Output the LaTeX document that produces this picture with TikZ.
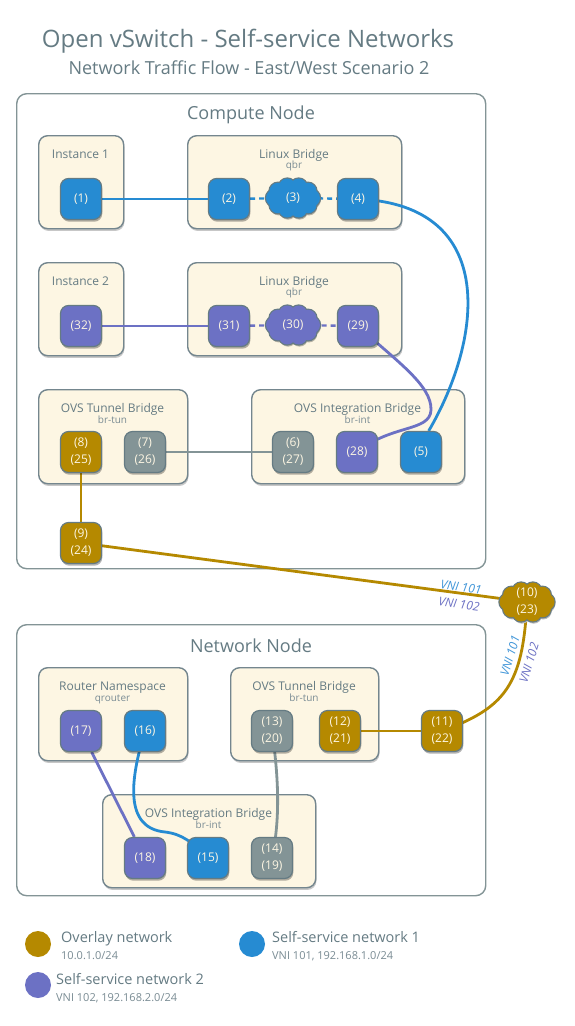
\documentclass[tikz,border=0pt]{standalone}
\usepackage{fontspec}
\setmainfont{Open Sans}
\usetikzlibrary{shadows}
\pgfdeclarelayer{bg}
\pgfdeclarelayer{lines}
\pgfsetlayers{bg,lines,main}
\definecolor{cgold}{HTML}{B58900}
\definecolor{cblue}{HTML}{268BD2}
\definecolor{cviolet}{HTML}{6C71C4}
\definecolor{cgray}{HTML}{839496}
\definecolor{cbox}{HTML}{FDF6E3}
\definecolor{cborder}{HTML}{74868E}
\definecolor{ctext}{HTML}{657B83}
\definecolor{csub}{HTML}{7A8C94}
\definecolor{cvblue}{HTML}{3F95D8}
\colorlet{cshadowbox}{cbox!72!black}
\colorlet{cshadoww}{white!72!black}
\tikzset{
  outerbox/.style={draw=cgray, line width=1.4pt, rounded corners=10pt, anchor=north west, inner sep=0pt},
  ibox/.style={draw=cborder, fill=cbox, line width=1.4pt, rounded corners=9pt, anchor=north west, inner sep=0pt,
    drop shadow={shadow xshift=0.8pt, shadow yshift=-2.2pt, opacity=0.22, fill=black}},
  port/.style={draw=ctext, line width=1.2pt, rounded corners=8pt, minimum width=41pt, minimum height=41pt,
    inner sep=0pt, text=cbox, align=center, font=\fontsize{12}{17}\selectfont,
    drop shadow={shadow xshift=0.8pt, shadow yshift=-2.2pt, opacity=0.3, fill=black}},
  cloudlabel/.style={inner sep=0pt, text=cbox, align=center, font=\fontsize{12}{17}\selectfont},
  boxtitle/.style={anchor=base, text=ctext, font=\fontsize{12}{14}\selectfont},
  boxsub/.style={anchor=base, text=csub, font=\fontsize{10}{12}\selectfont},
  nodetitle/.style={anchor=base, text=ctext, font=\fontsize{18}{21}\selectfont},
  link/.style={line width=2.8pt},
  dashlink/.style={line width=2.4pt, dash pattern=on 5pt off 4pt},
  vni/.style={font=\fontsize{12}{14}\selectfont\itshape, inner sep=0pt},
  legdot/.style={circle, minimum size=26pt, inner sep=0pt},
  legmain/.style={anchor=base west, text=ctext, font=\fontsize{14.5}{17}\selectfont, inner sep=0pt},
  legsub/.style={anchor=base west, text=csub, font=\fontsize{11}{13}\selectfont, inner sep=0pt},
}
% cloud: #1 x, #2 y, #3 fill, #4 shadow colour, #5 half width of puff ring, #6 half height of puff ring
\newcommand\cloudblob[6]{%
  \foreach \k in {0,36,...,324}{\fill[#4] ({#1+0.8+#5*cos(\k)},{#2+2.2+#6*sin(\k)}) circle[radius=8.5pt];}
  \fill[#4] (#1+0.8,#2+2.2) ellipse[x radius=#5pt, y radius=13pt];
  \foreach \k in {0,36,...,324}{\draw[ctext, line width=2.4pt] ({#1+#5*cos(\k)},{#2+#6*sin(\k)}) circle[radius=8.5pt];}
  \foreach \k in {0,36,...,324}{\fill[#3] ({#1+#5*cos(\k)},{#2+#6*sin(\k)}) circle[radius=8.5pt];}
  \fill[#3] (#1,#2) ellipse[x radius=#5pt, y radius=13pt];
}
\begin{document}
\begin{tikzpicture}[x=1pt,y=-1pt]
\useasboundingbox (0,0) rectangle (574,1026);

% titles
\node[anchor=base, text=ctext, font=\fontsize{24}{28}\selectfont] (title) at (248,47) {Open vSwitch - Self-service Networks};
\node[anchor=base, text=ctext, font=\fontsize{18}{21}\selectfont] (subtitle) at (249,74) {Network Traffic Flow - East/West Scenario 2};

\begin{pgfonlayer}{bg}
\fill[white] (0,0) rectangle (574,1026);
% compute node
\node[outerbox, minimum width=469pt, minimum height=475pt] (compute) at (16,93) {};
\node[ibox, minimum width=85pt, minimum height=93pt] (inst1) at (38,135) {};
\node[ibox, minimum width=214pt, minimum height=93pt] (lb1) at (187,135) {};
\node[ibox, minimum width=85pt, minimum height=93pt] (inst2) at (38,262) {};
\node[ibox, minimum width=214pt, minimum height=93pt] (lb2) at (187,262) {};
\node[ibox, minimum width=149pt, minimum height=94pt] (tun1) at (38,389) {};
\node[ibox, minimum width=213pt, minimum height=94pt] (int1) at (251,389) {};
% network node
\node[outerbox, minimum width=469pt, minimum height=271pt] (network) at (16,624) {};
\node[ibox, minimum width=149pt, minimum height=93pt] (router) at (38,667) {};
\node[ibox, minimum width=148pt, minimum height=93pt] (tun2) at (230,667) {};
\node[ibox, minimum width=213pt, minimum height=93pt] (int2) at (102,794) {};
\end{pgfonlayer}

\node[nodetitle] (computelbl) at (251,119) {Compute Node};
\node[nodetitle] (networklbl) at (251,652) {Network Node};

\node[boxtitle] (inst1lbl) at (80.5,158) {Instance 1};
\node[boxtitle] (lb1lbl) at (294,158) {Linux Bridge};
\node[boxsub] (lb1sub) at (294,168) {qbr};
\node[boxtitle] (inst2lbl) at (80.5,285) {Instance 2};
\node[boxtitle] (lb2lbl) at (294,285) {Linux Bridge};
\node[boxsub] (lb2sub) at (294,295) {qbr};
\node[boxtitle] (tun1lbl) at (112.5,412) {OVS Tunnel Bridge};
\node[boxsub] (tun1sub) at (112.5,423) {br-tun};
\node[boxtitle] (int1lbl) at (357.5,412) {OVS Integration Bridge};
\node[boxsub] (int1sub) at (357.5,423) {br-int};
\node[boxtitle] (routerlbl) at (112.5,690) {Router Namespace};
\node[boxsub] (routersub) at (112.5,701) {qrouter};
\node[boxtitle] (tun2lbl) at (304,690) {OVS Tunnel Bridge};
\node[boxsub] (tun2sub) at (304,701) {br-tun};
\node[boxtitle] (int2lbl) at (208.5,817) {OVS Integration Bridge};
\node[boxsub] (int2sub) at (208.5,828) {br-int};

% clouds
\cloudblob{293}{198}{cblue}{cshadowbox}{18.5}{11.5}
\node[cloudlabel] (c3) at (293,198) {(3)};
\cloudblob{293}{325}{cviolet}{cshadowbox}{18.5}{11.5}
\node[cloudlabel] (c30) at (293,325) {(30)};
\cloudblob{527}{602}{cgold}{cshadoww}{19}{11.5}
\node[cloudlabel] (c10) at (527,602) {(10)\\(23)};

% ports
\node[port, fill=cblue] (p1) at (81,199) {(1)};
\node[port, fill=cblue] (p2) at (229,199) {(2)};
\node[port, fill=cblue] (p4) at (358,199) {(4)};
\node[port, fill=cviolet] (p32) at (81,326) {(32)};
\node[port, fill=cviolet] (p31) at (229,326) {(31)};
\node[port, fill=cviolet] (p29) at (358,326) {(29)};
\node[port, fill=cgold] (p8) at (81,452) {(8)\\(25)};
\node[port, fill=cgray] (p7) at (145,452) {(7)\\(26)};
\node[port, fill=cgray] (p6) at (293,452) {(6)\\(27)};
\node[port, fill=cviolet] (p28) at (357,452) {(28)};
\node[port, fill=cblue] (p5) at (421,452) {(5)};
\node[port, fill=cgold] (p9) at (81,543) {(9)\\(24)};
\node[port, fill=cviolet] (p17) at (81,731) {(17)};
\node[port, fill=cblue] (p16) at (145,731) {(16)};
\node[port, fill=cgray] (p13) at (272,731) {(13)\\(20)};
\node[port, fill=cgold] (p12) at (340,731) {(12)\\(21)};
\node[port, fill=cgold] (p11) at (442,731) {(11)\\(22)};
\node[port, fill=cviolet] (p18) at (145,858) {(18)};
\node[port, fill=cblue] (p15) at (208,858) {(15)};
\node[port, fill=cgray] (p14) at (272,858) {(14)\\(19)};

\begin{pgfonlayer}{lines}
\draw[link, cblue] (p1) -- (p2);
\draw[dashlink, cblue] (p2) -- (c3);
\draw[dashlink, cblue] (c3) -- (p4);
\draw[link, cblue] (p4.center) .. controls (500,205) and (482,340) .. (p5.70);
\draw[link, cviolet] (p32) -- (p31);
\draw[dashlink, cviolet] (p31) -- (c30);
\draw[dashlink, cviolet] (c30) -- (p29);
\draw[link, cviolet] (p29.center) .. controls (395,360) and (432,385) .. (431,410)
   .. controls (430,432) and (392,424) .. (p28.center);
\draw[link, cgray] (p7) -- (p6);
\draw[link, cgold] (p8) -- (p9);
\draw[link, cgold] (p9) -- (c10.center);
\draw[link, cgold] (c10.center) .. controls (523,685) and (505,708) .. (p11.center);
\draw[link, cgold] (p12) -- (p11);
\draw[link, cgray] (p13.center) .. controls (279,780) and (280,820) .. (p14.center);
\draw[link, cviolet] (p17) -- (p18);
\draw[link, cblue] (p16.center) .. controls (130,780) and (124,828) .. (165,832)
   .. controls (182,834) and (192,842) .. (p15.center);
\end{pgfonlayer}

% VNI labels
\node[vni, text=cvblue, rotate=-7.5] (vnia1) at (461,587) {VNI 101};
\node[vni, text=cviolet, rotate=-7.5] (vnia2) at (459,604) {VNI 102};
\node[vni, text=cvblue, rotate=73] (vnib1) at (510,656) {VNI 101};
\node[vni, text=cviolet, rotate=73] (vnib2) at (529,663) {VNI 102};

% legend
\node[legdot, fill=cgold] (lg1) at (38,944) {};
\node[legmain] (lg1a) at (61,942) {Overlay network};
\node[legsub] (lg1b) at (61,959) {10.0.1.0/24};
\node[legdot, fill=cblue] (lg2) at (252,944) {};
\node[legmain] (lg2a) at (272,942) {Self-service network 1};
\node[legsub] (lg2b) at (272,959) {VNI 101, 192.168.1.0/24};
\node[legdot, fill=cviolet] (lg3) at (38,985) {};
\node[legmain] (lg3a) at (56,984) {Self-service network 2};
\node[legsub] (lg3b) at (56,1001) {VNI 102, 192.168.2.0/24};
\end{tikzpicture}
\end{document}
